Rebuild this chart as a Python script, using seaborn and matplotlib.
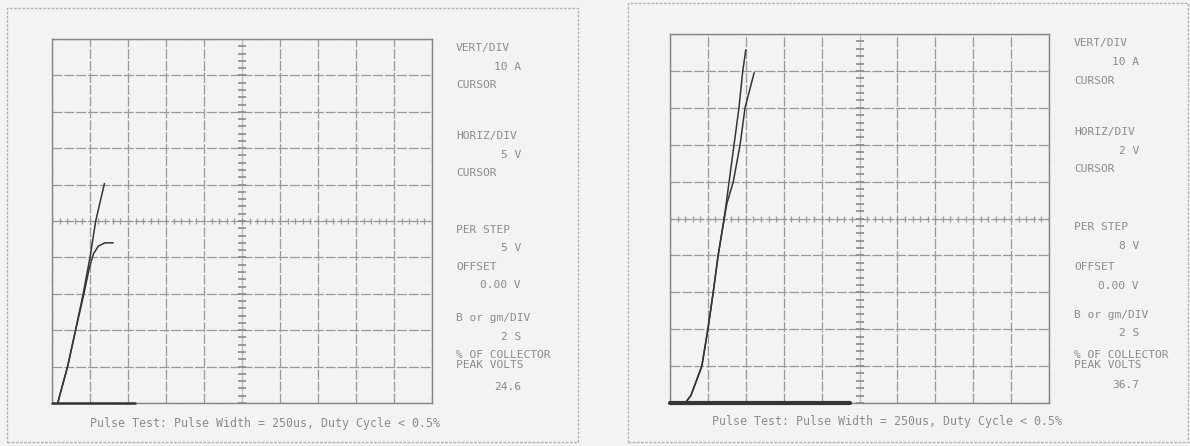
import numpy as np
import pandas as pd
import matplotlib
matplotlib.use("Agg")
import matplotlib.pyplot as plt
import seaborn as sns
from matplotlib.patches import Rectangle

# ---------------- data (read from the scope screens) ----------------
# Left screen: 5 V/div horizontal, 10 A/div vertical
left_c1_v = [0.75, 2.05, 3.1, 4.1, 5.0, 5.75, 6.9]
left_c1_a = [0.0, 10.0, 20.0, 30.0, 40.0, 50.0, 60.3]
left_c2_v = [0.75, 2.05, 3.1, 4.2, 4.9, 5.45, 6.1, 6.95, 8.05]
left_c2_a = [0.0, 10.0, 20.0, 30.0, 37.0, 41.0, 43.1, 44.0, 44.0]
left_base_v = [0.0, 10.9]
left_base_a = [0.0, 0.0]

# Right screen: 2 V/div horizontal, 10 A/div vertical
right_c1_v = [0.8, 1.1, 1.32, 1.68, 2.0, 2.28, 2.54, 2.86, 3.12, 3.38, 3.64, 3.84, 4.0]
right_c1_a = [0.0, 2.0, 5.0, 10.0, 20.0, 30.0, 40.0, 50.0, 60.0, 70.0, 80.0, 90.0, 95.7]
right_c2_v = [0.8, 1.1, 1.32, 1.68, 2.0, 2.28, 2.54, 2.86, 3.0, 3.34, 3.7, 3.96, 4.44]
right_c2_a = [0.0, 2.0, 5.0, 10.0, 20.0, 30.0, 40.0, 50.0, 54.0, 60.0, 70.0, 80.0, 89.5]
right_base_v = [0.0, 9.5]
right_base_a = [0.0, 0.0]

left_labels = ["VERT/DIV", "10 A", "CURSOR", "HORIZ/DIV", "5 V", "CURSOR",
               "PER STEP", "5 V", "OFFSET", "0.00 V", "B or gm/DIV", "2 S",
               "% OF COLLECTOR", "PEAK VOLTS", "24.6"]
right_labels = ["VERT/DIV", "10 A", "CURSOR", "HORIZ/DIV", "2 V", "CURSOR",
                "PER STEP", "8 V", "OFFSET", "0.00 V", "B or gm/DIV", "2 S",
                "% OF COLLECTOR", "PEAK VOLTS", "36.7"]
footer = "Pulse Test: Pulse Width = 250us, Duty Cycle < 0.5%"

left_hdiv, right_hdiv, vdiv = 5.0, 2.0, 10.0
# ---------------------------------------------------------------------

W, H = 1190, 446
sns.set_theme(style="white")
plt.rcParams["font.family"] = ["DejaVu Sans Mono", "DejaVu Sans"]

BG = "#f3f3f3"
GRID = "#9a9a9a"
TRACE = "#353535"
TXT = "#8c8c8c"

fig = plt.figure(figsize=(W / 100, H / 100), dpi=100, facecolor=BG)


def fx(px):
    return px / W


def fy(py):
    return 1 - py / H


# outer frames of the two printouts
for (x0, y0, x1, y1) in [(7, 8, 578, 442), (628, 3, 1188, 442)]:
    fig.patches.append(Rectangle((fx(x0), fy(y1)), fx(x1 - x0), (y1 - y0) / H,
                                 transform=fig.transFigure, fill=False,
                                 edgecolor="#b4b4b4", lw=1.0, ls=(0, (2, 1))))


def make_screen(rect, hdiv, curves, base):
    ax = fig.add_axes(rect)
    ax.set_facecolor(BG)
    xmax, ymax = 10 * hdiv, 10 * vdiv
    ax.set_xlim(0, xmax)
    ax.set_ylim(0, ymax)
    ax.set_xticks(np.arange(0, xmax + hdiv / 2, hdiv))
    ax.set_yticks(np.arange(0, ymax + vdiv / 2, vdiv))
    ax.tick_params(length=0, labelbottom=False, labelleft=False)
    ax.grid(True, color=GRID, lw=0.9, ls=(0, (8, 1.5)))
    for s in ax.spines.values():
        s.set_color("#858585")
        s.set_linewidth(1.0)
    # centre graticule lines with minor tick marks
    cx, cy = 5 * hdiv, 5 * vdiv
    ax.axhline(cy, color=GRID, lw=0.9, ls=(0, (3, 3)), zorder=1)
    ax.axvline(cx, color="#c4c4c4", lw=0.6, zorder=1)
    mx = np.arange(0, xmax + 1e-9, hdiv / 5)
    my = np.arange(0, ymax + 1e-9, vdiv / 5)
    ax.plot(mx, np.full_like(mx, cy), ls="none", marker="|", ms=5,
            mew=0.9, color=GRID, zorder=1)
    ax.plot(np.full_like(my, cx), my, ls="none", marker="_", ms=6,
            mew=1.2, color="#8a8a8a", zorder=1)
    # baseline trace
    bv, ba, blw = base
    sns.lineplot(x=bv, y=ba, ax=ax, color=TRACE, lw=blw, sort=False,
                 estimator=None, legend=False, zorder=3, clip_on=False)
    for v, a in curves:
        df = pd.DataFrame({"V": v, "A": a})
        sns.lineplot(data=df, x="V", y="A", ax=ax, color=TRACE, lw=1.1,
                     sort=False, estimator=None, legend=False, zorder=3)
    ax.set_xlabel("")
    ax.set_ylabel("")
    return ax


make_screen([fx(52), 1 - 403 / H, fx(432 - 52), (403 - 39) / H], left_hdiv,
            [(left_c1_v, left_c1_a), (left_c2_v, left_c2_a)],
            (left_base_v, left_base_a, 1.8))
make_screen([fx(670), 1 - 403 / H, fx(1049 - 670), (403 - 34) / H], right_hdiv,
            [(right_c1_v, right_c1_a), (right_c2_v, right_c2_a)],
            (right_base_v, right_base_a, 3.0))

# side annotations
left_y = [48, 67, 85, 136, 155, 173, 230, 248, 267, 285, 318, 337, 355, 365, 387]
right_y = [43, 62, 81, 132, 151, 169, 227, 246, 267, 286, 315, 333, 355, 365, 385]
value_idx = {1, 4, 7, 9, 11, 14}
FS = 8.1


def side_text(labels, ys, xl, xr):
    for i, (t, y) in enumerate(zip(labels, ys)):
        if i in value_idx:
            fig.text(fx(xr), fy(y), t, ha="right", va="center", fontsize=FS,
                     color=TXT)
        else:
            fig.text(fx(xl), fy(y), t, ha="left", va="center", fontsize=FS,
                     color=TXT)


side_text(left_labels, left_y, 456, 521)
side_text(right_labels, right_y, 1074, 1139)

fig.text(fx(90), fy(423), footer, ha="left", va="center", fontsize=8.4, color=TXT)
fig.text(fx(712), fy(422), footer, ha="left", va="center", fontsize=8.4, color=TXT)

fig.savefig("out.png", dpi=100, facecolor=BG)
